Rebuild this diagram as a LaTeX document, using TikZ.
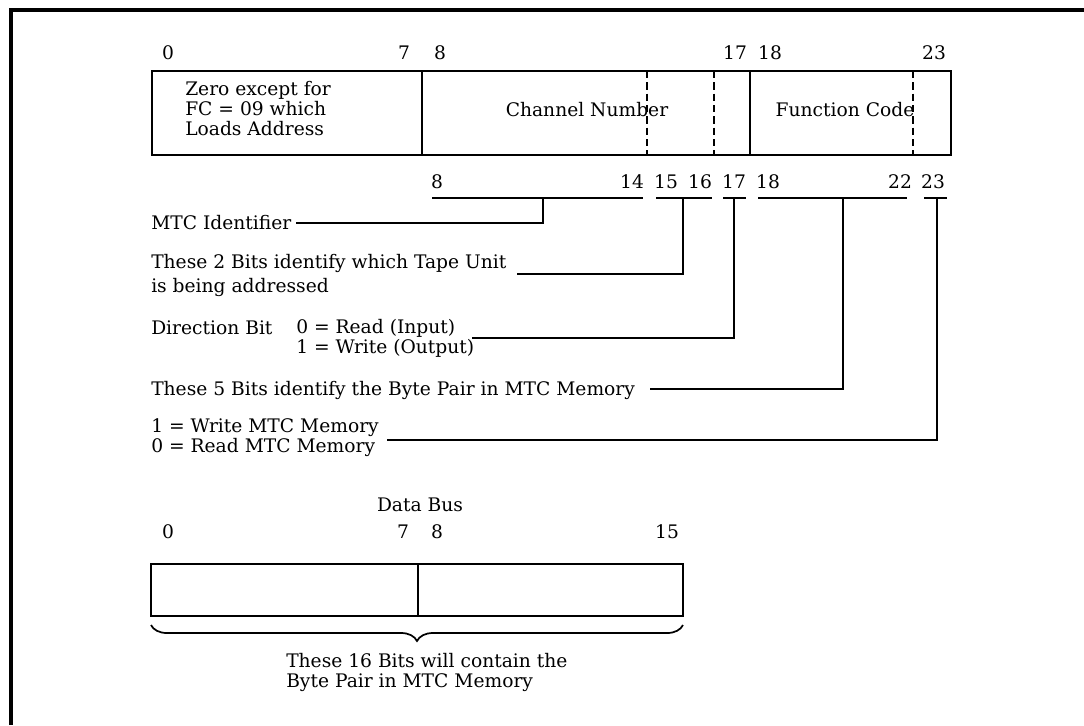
\documentclass[tikz,border=0pt]{standalone}
\usepackage{tikz}
\usepackage{fontspec}
\setmainfont{DejaVu Serif}
\usetikzlibrary{decorations.pathreplacing}
\tikzset{
  lbl/.style={inner sep=0.75pt, font=\fontsize{14}{15}\selectfont, align=left},
  field/.style={line width=1.4pt},
  subfield/.style={line width=1.4pt, dash pattern=on 5.5pt off 3pt},
  lead/.style={line width=1.3pt},
}

\begin{document}
\begin{tikzpicture}[x=0.75pt,y=0.75pt,yscale=-1,xscale=1]
\path [use as bounding box] (0,0) rectangle (1084,725);

%Shape: Frame
\draw [line width=2.4pt] (11,725) -- (11,10) -- (1084,10) ;

%Shape: Rectangle [command word]
\draw [field] (152,71) rectangle (951,155) ;
\draw [field] (422,71) -- (422,155) ;
\draw [field] (750,71) -- (750,155) ;
\draw [subfield] (647,71) -- (647,155) ;
\draw [subfield] (714,71) -- (714,155) ;
\draw [subfield] (913,71) -- (913,155) ;

% Text Node
\node (w0) at (168,53) [lbl] {0};
\node (w7) at (404,53) [lbl] {7};
\node (w8) at (440,53) [lbl] {8};
\node (w17) at (735,53) [lbl] {17};
\node (w18) at (770,53) [lbl] {18};
\node (w23) at (934,53) [lbl] {23};
% Text Node
\node (zero) at (184,109) [lbl, anchor=west] {Zero except for\\FC = 09 which\\Loads Address};
\node (chan) at (587,110) [lbl] {Channel Number};
\node (func) at (845,110) [lbl] {Function Code};

% Text Node
\node (s8) at (437,182) [lbl] {8};
\node (s14) at (632,182) [lbl] {14};
\node (s15) at (666,182) [lbl] {15};
\node (s16) at (700,182) [lbl] {16};
\node (s17) at (734,182) [lbl] {17};
\node (s18) at (768,182) [lbl] {18};
\node (s22) at (900,182) [lbl] {22};
\node (s23) at (933,182) [lbl] {23};

%Straight Lines [bit groups]
\coordinate (g1a) at (432,198); \coordinate (g1b) at (643,198); \coordinate (g1) at (543,198);
\coordinate (g2a) at (656,198); \coordinate (g2b) at (712,198); \coordinate (g2) at (683,198);
\coordinate (g3a) at (723,198); \coordinate (g3b) at (746,198); \coordinate (g3) at (734,198);
\coordinate (g4a) at (758,198); \coordinate (g4b) at (907,198); \coordinate (g4) at (843,198);
\coordinate (g5a) at (924,198); \coordinate (g5b) at (947,198); \coordinate (g5) at (937,198);
\draw [lead] (g1a) -- (g1b) ;
\draw [lead] (g2a) -- (g2b) ;
\draw [lead] (g3a) -- (g3b) ;
\draw [lead] (g4a) -- (g4b) ;
\draw [lead] (g5a) -- (g5b) ;

% Text Node
\node (mtc) at (150,223) [lbl, anchor=west] {MTC Identifier};
\node (tape) at (150,275) [lbl, anchor=west] {These 2 Bits identify which Tape Unit\\[3pt]is being addressed};
\node (dir) at (150,328) [lbl, anchor=west] {Direction Bit};
\node (dirval) at (295,338) [lbl, anchor=west] {0 = Read (Input)\\1 = Write (Output)};
\node (pair) at (150,390) [lbl, anchor=west] {These 5 Bits identify the Byte Pair in MTC Memory};
\node (mem) at (150,438) [lbl, anchor=west] {1 = Write MTC Memory\\0 = Read MTC Memory};

%Curve Lines [leaders]
\coordinate (l1) at (296,223);
\coordinate (l2) at (517,274);
\coordinate (l3) at (472,338);
\coordinate (l4) at (650,389);
\coordinate (l5) at (387,440);
\draw [lead] (l1) -| (g1) ;
\draw [lead] (l2) -| (g2) ;
\draw [lead] (l3) -| (g3) ;
\draw [lead] (l4) -| (g4) ;
\draw [lead] (l5) -| (g5) ;

% Text Node
\node (bus) at (420,505) [lbl] {Data Bus};
\node (d0) at (168,532) [lbl] {0};
\node (d7) at (403,532) [lbl] {7};
\node (d8) at (437,532) [lbl] {8};
\node (d15) at (667,532) [lbl] {15};

%Shape: Rectangle [data bus]
\draw [field] (151,564) rectangle (683,616) ;
\draw [field] (418,564) -- (418,616) ;

%Brace
\coordinate (bl) at (151,625);
\coordinate (br) at (683,625);
\draw [lead, decorate, decoration={brace, mirror, amplitude=12pt}] (bl) -- (br) ;

% Text Node
\node (contain) at (285,672) [lbl, anchor=west] {These 16 Bits will contain the\\Byte Pair in MTC Memory};

\end{tikzpicture}
\end{document}
